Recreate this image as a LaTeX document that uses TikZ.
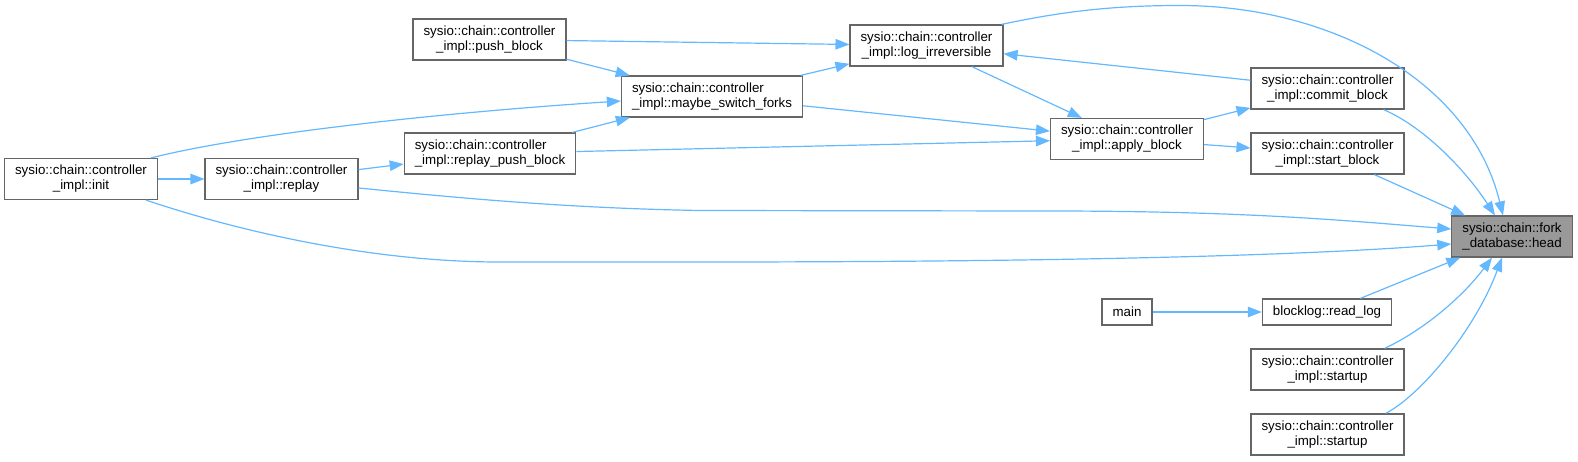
\documentclass[tikz,border=0pt]{standalone}
\usepackage{fontspec}
\setmainfont{Liberation Sans}
\usetikzlibrary{arrows.meta}
\definecolor{callblue}{HTML}{63B8FF}
\definecolor{boxgray}{HTML}{666666}
\definecolor{selgray}{HTML}{999999}

\begin{document}
\begin{tikzpicture}[
  x=1pt,y=-1pt,
  every node/.style={font=\fontsize{13.33}{15}\selectfont},
  fn/.style={rectangle,draw=boxgray,fill=white,line width=1.2pt,inner xsep=10.5pt,inner ysep=2pt,minimum height=41pt,align=center},
  fnl/.style={fn,align=left},
  fn1/.style={fn,minimum height=26pt},
  sel/.style={fn,fill=selgray},
  cl/.style={draw=callblue,line width=1.2pt,-{Triangle[length=14pt,width=10.5pt]}}]
\useasboundingbox (0,0) rectangle (1578,461);

% ---- callers, left to right ----
\node[fn]  (init)    at (81,179)     {sysio::chain::controller\\\_impl::init};
\node[fn]  (replay)  at (281.5,179)  {sysio::chain::controller\\\_impl::replay};
\node[fn]  (push)    at (489.5,39.5) {sysio::chain::controller\\\_impl::push\_block};
\node[fnl] (rpush)   at (490,153.5)  {sysio::chain::controller\\\_impl::replay\_push\_block};
\node[fnl] (maybe)   at (712,96.5)   {sysio::chain::controller\\\_impl::maybe\_switch\_forks};
\node[fn]  (logirr)  at (926.5,45.5) {sysio::chain::controller\\\_impl::log\_irreversible};
\node[fn]  (apply)   at (1127,139)   {sysio::chain::controller\\\_impl::apply\_block};
\node[fn1] (main)    at (1127,312)   {main};
\node[fn]  (commit)  at (1327.5,88.5)  {sysio::chain::controller\\\_impl::commit\_block};
\node[fn]  (start)   at (1327.5,153.5) {sysio::chain::controller\\\_impl::start\_block};
\node[fn1] (readlog) at (1327,312)     {blocklog::read\_log};
\node[fn]  (startupa) at (1327.5,369.5) {sysio::chain::controller\\\_impl::startup};
\node[fn]  (startupb) at (1327.5,434.5) {sysio::chain::controller\\\_impl::startup};

% ---- the callee ----
\node[sel] (head) at (1512,236.5) {sysio::chain::fork\\\_database::head};

% ---- straight calls ----
\foreach \s/\t in {push/logirr,push/maybe,maybe/logirr,maybe/apply,logirr/apply,
  commit/logirr,apply/commit,apply/start,start/head,readlog/head,main/readlog,
  rpush/maybe,rpush/apply,init/replay,replay/rpush}
  \draw[cl] (\s)--(\t);

% ---- curved calls ----
\draw[cl] ([xshift=-7pt]init.north east) .. controls (250,133) and (450,112) .. ([yshift=-4.5pt]maybe.west);
\draw[cl] ([xshift=-12pt]init.south east) .. controls (250,235) and (380,262) .. (500,262)
  -- (700,262) .. controls (1050,262) and (1300,256) .. ([yshift=-7.5pt]head.west);
\draw[cl] ([yshift=-9pt]replay.east) .. controls (450,197) and (560,208) .. (700,210.5)
  -- (1050,211) .. controls (1250,211) and (1350,221) .. ([yshift=7.5pt]head.west);
\draw[cl] ([xshift=-2pt]logirr.north east) .. controls (1060,12) and (1110,5.5) .. (1180,5.5)
  .. controls (1330,5.5) and (1470,80) .. ([xshift=-9pt]head.north);
\draw[cl] ([xshift=-21pt]commit.south east) .. controls (1420,125) and (1462,165) .. ([xshift=-17pt]head.north);
\draw[cl] ([xshift=-20pt]startupa.north east) .. controls (1420,332) and (1460,300) .. ([xshift=-20pt]head.south);
\draw[cl] ([xshift=-19pt]startupb.north east) .. controls (1420,396) and (1475,330) .. ([xshift=-10pt]head.south);
\end{tikzpicture}
\end{document}
